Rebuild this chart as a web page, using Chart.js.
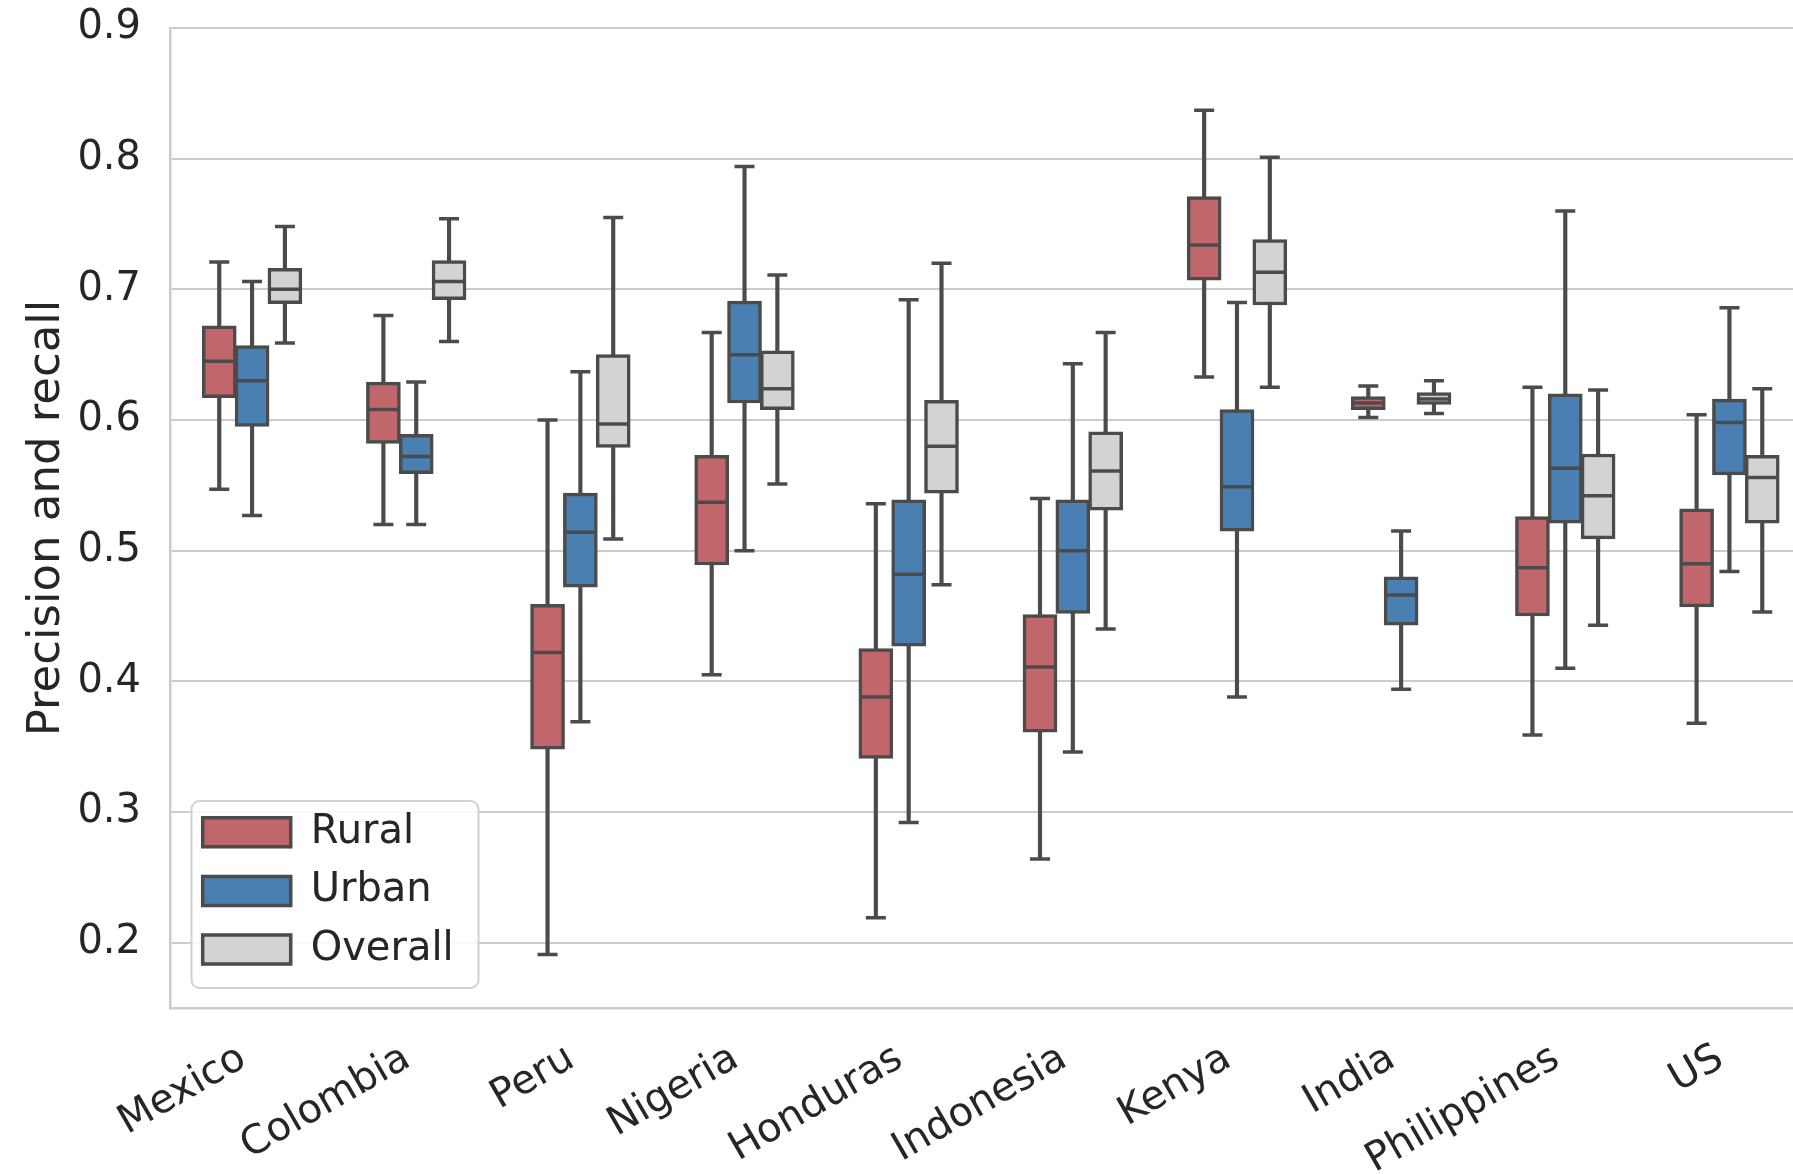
<!DOCTYPE html>
<html>
<head>
<meta charset="utf-8">
<title>Precision and recall by country</title>
<script src="https://cdn.jsdelivr.net/npm/chart.js@4.4.1/dist/chart.umd.min.js"></script>
<style>
    html, body { margin: 0; padding: 0; background: #fff; overflow: hidden; }
    #wrap { width: 1793px; height: 1174px; overflow: hidden; }
</style>
</head>
<body>
<div id="wrap"><canvas id="boxes" width="1830" height="1174"></canvas></div>
<script>
var countries = ['Mexico', 'Colombia', 'Peru', 'Nigeria', 'Honduras', 'Indonesia', 'Kenya', 'India', 'Philippines', 'US'];

// per country: lower whisker, q1, median, q3, upper whisker
var rural = [
    [0.547, 0.617, 0.645, 0.672, 0.721],
    [0.520, 0.582, 0.608, 0.629, 0.680],
    [0.191, 0.348, 0.422, 0.459, 0.600],
    [0.405, 0.489, 0.537, 0.573, 0.667],
    [0.219, 0.341, 0.388, 0.425, 0.536],
    [0.264, 0.361, 0.411, 0.451, 0.540],
    [0.633, 0.707, 0.734, 0.771, 0.837],
    [0.602, 0.608, 0.613, 0.618, 0.626],
    [0.359, 0.450, 0.487, 0.526, 0.625],
    [0.368, 0.457, 0.490, 0.532, 0.604]
];

var urban = [
    [0.527, 0.595, 0.630, 0.657, 0.706],
    [0.520, 0.559, 0.572, 0.589, 0.629],
    [0.369, 0.472, 0.514, 0.544, 0.637],
    [0.500, 0.613, 0.650, 0.691, 0.794],
    [0.292, 0.427, 0.482, 0.539, 0.692],
    [0.346, 0.452, 0.500, 0.539, 0.643],
    [0.388, 0.515, 0.549, 0.608, 0.690],
    [0.394, 0.443, 0.466, 0.480, 0.515],
    [0.410, 0.521, 0.563, 0.620, 0.760],
    [0.484, 0.558, 0.598, 0.616, 0.686]
];

var overall = [
    [0.659, 0.689, 0.700, 0.716, 0.748],
    [0.660, 0.692, 0.706, 0.722, 0.754],
    [0.509, 0.579, 0.597, 0.650, 0.755],
    [0.551, 0.608, 0.624, 0.653, 0.711],
    [0.474, 0.544, 0.580, 0.615, 0.720],
    [0.440, 0.531, 0.561, 0.591, 0.667],
    [0.625, 0.688, 0.713, 0.738, 0.801],
    [0.605, 0.612, 0.616, 0.621, 0.630],
    [0.443, 0.509, 0.542, 0.574, 0.623],
    [0.453, 0.521, 0.556, 0.573, 0.624]
];

var yTicks = [0.2, 0.3, 0.4, 0.5, 0.6, 0.7, 0.8, 0.9];

var lineColor = '#4b4b4b';
var gridColor = '#cccccc';
var textColor = '#262626';

var groups = [
    { label: 'Rural', stats: rural, color: '#c1666a', shift: -0.2 },
    { label: 'Urban', stats: urban, color: '#4a7fb1', shift: 0 },
    { label: 'Overall', stats: overall, color: '#d3d3d3', shift: 0.2 }
];

function boxDatasets(g) {
    let at = (i) => i + g.shift;
    return [
        {
            type: 'bar', role: 'box', label: g.label,
            data: g.stats.map((s, i) => ({ x: at(i), y: [s[1], s[3]] })),
            backgroundColor: g.color, borderColor: lineColor, borderWidth: 3.5,
            borderSkipped: false, barThickness: 34, maxBarThickness: 34, grouped: false, order: 2
        },
        {
            type: 'bar', role: 'whisker', label: g.label + ' whiskers',
            data: g.stats.map((s, i) => ({ x: at(i), y: [s[0], s[4]] })),
            backgroundColor: lineColor, borderWidth: 0,
            barThickness: 3.5, maxBarThickness: 3.5, grouped: false, order: 3
        },
        {
            type: 'scatter', role: 'cap', label: g.label + ' caps',
            data: g.stats.flatMap((s, i) => [{ x: at(i), y: s[0] }, { x: at(i), y: s[4] }]),
            pointStyle: 'line', pointRadius: 10, pointBorderWidth: 3.5,
            borderColor: lineColor, pointBorderColor: lineColor, order: 1
        },
        {
            type: 'scatter', role: 'median', label: g.label + ' median',
            data: g.stats.map((s, i) => ({ x: at(i), y: s[2] })),
            pointStyle: 'line', pointRadius: 15, pointBorderWidth: 3.5,
            borderColor: lineColor, pointBorderColor: lineColor, order: 1
        }
    ];
}

// puts the legend inside the plot, lower left, and draws its frame
var legendBox = {
    id: 'legendBox',
    beforeDraw(chart) {
        let lg = chart.legend, area = chart.chartArea;
        lg.left = area.left + 14;
        lg.top = area.bottom - 214.5;
        lg.right = lg.left + 420;
        lg.bottom = area.bottom;
    },
    afterDatasetsDraw(chart) {
        let lg = chart.legend, ctx = chart.ctx;
        ctx.save();
        ctx.beginPath();
        ctx.roundRect(lg.left + 7.5, lg.top + 7.5, 287, 187, 8);
        ctx.fillStyle = 'rgba(255,255,255,0.85)';
        ctx.fill();
        ctx.lineWidth = 2;
        ctx.strokeStyle = 'rgba(204,204,204,0.9)';
        ctx.stroke();
        ctx.restore();
        lg.draw();
    }
};

Chart.defaults.font.family = 'DejaVu Sans';
Chart.defaults.color = textColor;

var config = {
    type: 'bar',
    data: {
        datasets: groups.flatMap(boxDatasets)
    },
    options: {
        responsive: false,
        animation: false,
        devicePixelRatio: 1,
        events: [],
        layout: { padding: { top: 28, right: 15, left: 0, bottom: 0 } },
        scales: {
            x: {
                type: 'linear',
                min: -0.5,
                max: 9.5,
                offset: false,
                afterBuildTicks: (axis) => { axis.ticks = countries.map((c, i) => ({ value: i })); },
                afterFit: (axis) => { axis.height = 166; },
                grid: { display: false, offset: false },
                border: { display: true, color: gridColor, width: 2.5 },
                ticks: {
                    callback: (v) => countries[v],
                    autoSkip: false,
                    minRotation: 30,
                    maxRotation: 30,
                    padding: 19,
                    labelOffset: -9,
                    font: { size: 40 },
                    color: textColor
                }
            },
            y: {
                type: 'linear',
                min: 0.15,
                max: 0.9,
                afterBuildTicks: (axis) => { axis.ticks = yTicks.map((v) => ({ value: v })); },
                afterFit: (axis) => {
                    axis.width = 170;
                    axis.paddingTop = 0;
                    axis.paddingBottom = 0;
                },
                grid: { color: gridColor, lineWidth: 2, drawTicks: false },
                border: { display: true, color: gridColor, width: 2.5 },
                ticks: {
                    callback: (v) => v.toFixed(1),
                    padding: 29,
                    font: { size: 40 },
                    color: textColor
                },
                title: {
                    display: true,
                    text: 'Precision and recall',
                    font: { size: 45 },
                    color: textColor,
                    padding: { top: 20, bottom: 0 }
                }
            }
        },
        plugins: {
            tooltip: { enabled: false },
            legend: {
                display: true,
                position: 'chartArea',
                align: 'start',
                labels: {
                    filter: (item, data) => data.datasets[item.datasetIndex].role === 'box',
                    boxWidth: 88,
                    boxHeight: 29,
                    padding: 18.7,
                    font: { size: 40 },
                    color: textColor
                }
            }
        }
    },
    plugins: [legendBox]
};

window.boxChart = new Chart(document.getElementById('boxes').getContext('2d'), config);
</script>
</body>
</html>
